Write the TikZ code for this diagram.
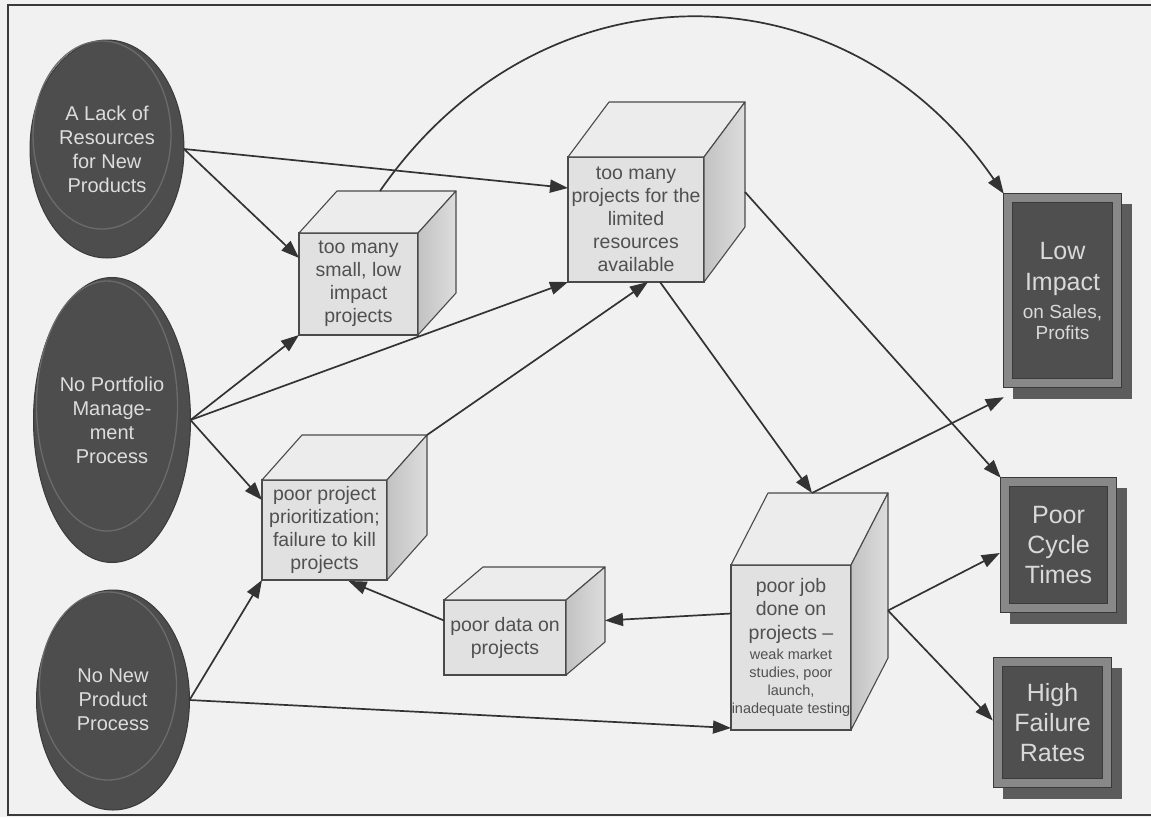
\documentclass[tikz,border=0pt]{standalone}
\usepackage{fontspec}
\setmainfont{Liberation Sans}
\usetikzlibrary{arrows.meta,shapes.geometric,calc}

\definecolor{paper}{HTML}{F1F1F1}
\definecolor{framec}{HTML}{3A3A3A}
\definecolor{linec}{HTML}{333333}
\definecolor{edgec}{HTML}{4A4A4A}
\definecolor{frontc}{HTML}{E1E1E1}
\definecolor{topc}{HTML}{ECECEC}
\definecolor{sidedark}{HTML}{C2C2C2}
\definecolor{sidelight}{HTML}{DDDDDD}
\definecolor{cubetext}{HTML}{505050}
\definecolor{discc}{HTML}{4D4D4D}
\definecolor{discedge}{HTML}{3A3A3A}
\definecolor{ringc}{HTML}{6B6B6B}
\definecolor{disctext}{HTML}{DDDDDD}
\definecolor{bandc}{HTML}{888888}
\definecolor{innerc}{HTML}{4F4F4F}
\definecolor{shadowc}{HTML}{5C5C5C}
\definecolor{boxtext}{HTML}{D9D9D9}

\pgfdeclarelayer{back}
\pgfdeclarelayer{shade}
\pgfsetlayers{back,shade,main}

\tikzset{
  cubefront/.style={rectangle, draw=edgec, fill=frontc, line width=1.1pt,
    inner sep=0pt, outer sep=0pt, align=center, text=cubetext,
    font=\fontsize{19.5}{23}\selectfont},
  topface/.style={draw=edgec, fill=topc, line width=1.1pt, line join=round},
  sideface/.style={draw=edgec, line width=1.1pt, left color=sidedark,
    right color=sidelight, line join=round},
  disc/.style={ellipse, draw=discedge, fill=discc, line width=1pt,
    inner sep=0pt, outer sep=0pt, align=center, text=disctext,
    font=\fontsize{20}{24}\selectfont},
  ringline/.style={draw=ringc, line width=1.3pt},
  outcome/.style={rectangle, draw=discedge, line width=0.8pt, double=bandc,
    double distance=8pt, fill=innerc, inner sep=0pt, outer sep=0pt,
    align=center, text=boxtext, font=\fontsize{25}{30}\selectfont},
  link/.style={draw=linec, line width=1.7pt, -{Triangle[length=18pt,width=13pt]}},
}

% smaller type used for the secondary lines inside a box
\newcommand\minortype{\fontsize{14.5}{17.5}\selectfont}
\newcommand\midtype{\fontsize{19}{20}\selectfont}

% top and right faces of a box whose front face is node #1, depth (#2,#3)
\newcommand\cubefaces[3]{%
  \path[topface] (#1.north west) -- ++(#2,#3) -- ($(#1.north east)+(#2,#3)$)
    -- (#1.north east) -- cycle;
  \path[sideface] (#1.north east) -- ++(#2,#3) -- ($(#1.south east)+(#2,#3)$)
    -- (#1.south east) -- cycle;}

% inner rim of a disc
\newcommand\discring[3]{%
  \draw[ringline] ($(#1.center)+(-5,-14)$) ellipse [x radius=#2pt, y radius=#3pt];}

% offset shadow behind an outcome box
\newcommand\boxshadow[1]{%
  \begin{pgfonlayer}{shade}
    \fill[shadowc] ($(#1.north west)+(5.2,6.2)$) rectangle ($(#1.south east)+(14.8,15.8)$);
  \end{pgfonlayer}}

\begin{document}
\begin{tikzpicture}[x=1pt,y=-1pt]
\useasboundingbox (0,0) rectangle (1151,817);
\begin{pgfonlayer}{back}
  \fill[paper] (0,0) rectangle (1151,817);
\end{pgfonlayer}
\draw[framec, line width=2pt] (1152,5) -- (8,5) -- (8,815) -- (1152,815);

% causes
\node[disc, minimum width=154pt, minimum height=218pt] (lack) at (107,149)
  {A Lack of\\Resources\\for New\\Products};
\discring{lack}{69}{94}
\node[disc, minimum width=157pt, minimum height=285pt] (portfolio) at (112,420)
  {No Portfolio\\Manage-\\ment\\Process};
\discring{portfolio}{70.5}{125}
\node[disc, minimum width=153pt, minimum height=220pt] (noprocess) at (113,700)
  {No New\\Product\\Process};
\discring{noprocess}{68.5}{94}

% intermediate problems
\node[cubefront, minimum width=119pt, minimum height=102pt] (small) at (358.5,284)
  {too many\\small, low\\impact\\projects};
\cubefaces{small}{38}{-42}
\node[cubefront, minimum width=136pt, minimum height=125pt] (toomany) at (636,219.5)
  {too many\\projects for the\\limited\\resources\\available};
\cubefaces{toomany}{41}{-55}
\node[cubefront, minimum width=125pt, minimum height=100pt] (priority) at (324.5,530)
  {poor project\\prioritization;\\failure to kill\\projects};
\cubefaces{priority}{40}{-45}
\node[cubefront, minimum width=122pt, minimum height=75pt] (data) at (505,637.5)
  {poor data on\\projects};
\cubefaces{data}{39}{-33}
\node[cubefront, minimum width=120pt, minimum height=165pt] (poorjob) at (791,647.5)
  {poor job\\done on\\[1pt]projects --\\[-3pt]\minortype weak market\\[-5pt]\minortype studies, poor\\[-5pt]\minortype launch,\\[-5pt]\minortype inadequate testing};
\cubefaces{poorjob}{37}{-72}

% consequences
\node[outcome, minimum width=109.4pt, minimum height=185.4pt] (lowimpact) at (1062.5,290.5)
  {Low\\[1pt]Impact\\[-2pt]\midtype on Sales,\\[-9pt]\midtype Profits};
\boxshadow{lowimpact}
\node[outcome, minimum width=107.4pt, minimum height=126.4pt] (cycle) at (1058.5,545)
  {Poor\\Cycle\\Times};
\boxshadow{cycle}
\node[outcome, minimum width=109.4pt, minimum height=121.4pt] (failure) at (1052.5,722.5)
  {High\\Failure\\Rates};
\boxshadow{failure}

% connectors
\draw[link] (lack.east) -- ($(small.north west)+(0,25)$);
\draw[link] (lack.east) -- ($(toomany.north west)+(0,31)$);
\draw[link] (portfolio.east) -- (small.south west);
\draw[link] (portfolio.east) -- (toomany.south west);
\draw[link] (portfolio.east) -- ($(priority.north west)+(0,20)$);
\draw[link] (noprocess.east) -- (priority.south west);
\draw[link] (noprocess.east) -- ($(poorjob.south west)+(0,-2)$);
\draw[link] ($(small.north west)+(81,-42)$) .. controls (540,-40) and (843,-40)
  .. ($(lowimpact.north west)+(-4,-4)$);
\draw[link] ($(priority.north east)+(40,-45)$) -- ($(toomany.south west)+(80,0)$);
\draw[link] ($(toomany.south west)+(92,0)$) -- ($(poorjob.north west)+(81,-72)$);
\draw[link] ($(toomany.north east)+(41,35)$) -- ($(cycle.north west)+(-4,-4)$);
\draw[link] ($(poorjob.north west)+(81,-72)$) -- ($(lowimpact.south west)+(-4,14)$);
\draw[link] ($(poorjob.east)+(37,-37)$) -- ($(cycle.west)+(-5,8)$);
\draw[link] ($(poorjob.east)+(37,-37)$) -- ($(failure.west)+(-5,-2)$);
\draw[link] ($(poorjob.west)+(0,-34)$) -- ($(data.east)+(39,-17)$);
\draw[link] ($(data.west)+(0,-17)$) -- ($(priority.south)+(24,1)$);
\end{tikzpicture}
\end{document}
